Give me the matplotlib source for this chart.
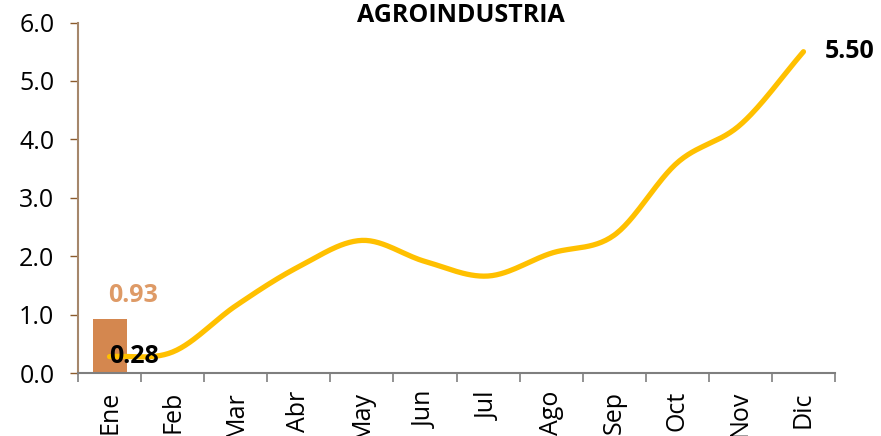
import numpy as np
import matplotlib.pyplot as plt

# ── Data ──────────────────────────────────────────────────────────────────
meses      = ["Ene", "Feb", "Mar", "Abr", "May", "Jun", "Jul", "Ago", "Sep", "Oct", "Nov", "Dic"]
acumulado  = [0.28, 0.36, 1.15, 1.82, 2.27, 1.91, 1.66, 2.05, 2.36, 3.60, 4.25, 5.50]
barra_mes  = ["Ene"]
barra_val  = [0.93]

LINE_COLOR = "#FFC000"
BAR_COLOR  = "#D4874F"
plt.rcParams["font.family"] = ["Open Sans", "DejaVu Sans"]

# ── Smooth curve (Catmull-Rom, like Excel's smoothed line) ─────────────────
def smooth(xs, ys, n=30):
    xs = np.asarray(xs, float); ys = np.asarray(ys, float)
    px = np.concatenate([[2 * xs[0] - xs[1]], xs, [2 * xs[-1] - xs[-2]]])
    py = np.concatenate([[2 * ys[0] - ys[1]], ys, [2 * ys[-1] - ys[-2]]])
    ox, oy = [], []
    for i in range(1, len(px) - 2):
        t = np.linspace(0, 1, n, endpoint=False)
        for p, o in ((px, ox), (py, oy)):
            p0, p1, p2, p3 = p[i - 1], p[i], p[i + 1], p[i + 2]
            o.extend(0.5 * ((2 * p1) + (-p0 + p2) * t
                            + (2 * p0 - 5 * p1 + 4 * p2 - p3) * t ** 2
                            + (-p0 + 3 * p1 - 3 * p2 + p3) * t ** 3))
    ox.append(xs[-1]); oy.append(ys[-1])
    return np.array(ox), np.array(oy)

x = np.arange(len(meses))
sx, sy = smooth(x, acumulado)

fig = plt.figure(figsize=(8.81, 4.36), dpi=100)
ax = fig.add_axes([78 / 881, 1 - 373 / 436, (835 - 78) / 881, (373 - 22.5) / 436])

bx = [meses.index(m) for m in barra_mes]
ax.bar(bx, barra_val, width=0.54, color=BAR_COLOR, zorder=2)
ax.plot(sx, sy, color=LINE_COLOR, lw=3.8, solid_capstyle="round", zorder=3)

# labels
for xi, v in zip(bx, barra_val):
    ax.annotate(f"{v:.2f}", (xi + 0.37, v), xytext=(0, 8), textcoords="offset points",
                ha="center", va="bottom", fontsize=18, fontweight="bold", color="#DE9A66")
ax.annotate(f"{acumulado[0]:.2f}", (0, acumulado[0]), xytext=(0, 0), textcoords="offset points",
            ha="left", va="center", fontsize=18, fontweight="bold", color="black", zorder=4)
ax.annotate(f"{acumulado[-1]:.2f}", (x[-1], acumulado[-1]), xytext=(15, 0), textcoords="offset points",
            ha="left", va="center", fontsize=18, fontweight="bold", color="black", annotation_clip=False)

ax.set_xlim(-0.5, len(meses) - 0.5)
ax.set_ylim(0, 6)
ax.set_yticks(np.arange(0, 6.01, 1.0))
ax.set_yticklabels([f"{v:.1f}" for v in np.arange(0, 6.01, 1.0)], fontsize=18)

ax.set_xticks(np.arange(-0.5, len(meses)))
ax.set_xticklabels([])
ax.set_xticks(x, minor=True)
ax.set_xticklabels(meses, minor=True, rotation=90, fontsize=18, va="top", ha="center")
ax.tick_params(axis="x", which="major", length=6.5, width=1.2, color="#7F7F7F", direction="out")
ax.tick_params(axis="x", which="minor", length=0, pad=13)
ax.tick_params(axis="y", length=6, width=1, color="#8B5A2B", pad=11)

for s in ("top", "right"):
    ax.spines[s].set_visible(False)
ax.spines["left"].set_color("#A5876B")
ax.spines["left"].set_linewidth(1.5)
ax.spines["bottom"].set_color("#7F7F7F")
ax.spines["bottom"].set_linewidth(1.5)

fig.text(461 / 881, 1 - 16 / 436, "AGROINDUSTRIA", ha="center", va="center",
         fontsize=18, fontweight="bold")

fig.savefig("out.png", dpi=100)
